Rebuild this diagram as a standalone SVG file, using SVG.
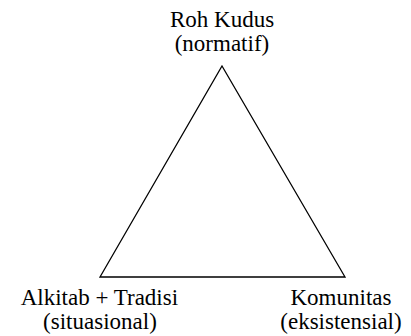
<svg xmlns="http://www.w3.org/2000/svg" width="411" height="336" viewBox="0 0 411 336">
<style>
.edge{stroke:#000;stroke-width:1.3;fill:none}
.lbl{font-family:"Liberation Serif","Times New Roman",serif;font-size:23px;fill:#000}
</style>
<rect width="411" height="336" fill="#fff"/>
<g id="connectors">
<path class="edge" d="M222,66 L345,277 L100,277 Z"/>
</g>
<g id="roh-kudus"><text class="lbl" x="170" y="27">Roh Kudus</text><text class="lbl" x="174.7" y="51">(normatif)</text></g>
<g id="alkitab-tradisi"><text class="lbl" x="20.7" y="305">Alkitab + Tradisi</text><text class="lbl" x="43.1" y="329">(situasional)</text></g>
<g id="komunitas"><text class="lbl" x="290.5" y="305">Komunitas</text><text class="lbl" x="280.3" y="329">(eksistensial)</text></g>
</svg>
